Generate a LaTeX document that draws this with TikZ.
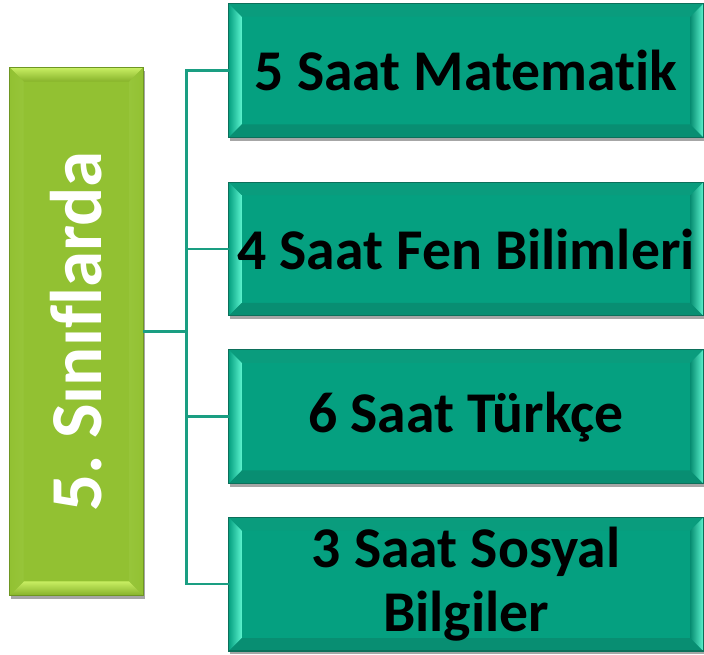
\documentclass[tikz,border=0pt]{standalone}
\usepackage{fontspec}
\setmainfont{Carlito}[Ligatures=CommonOff]
\usetikzlibrary{positioning}
\usetikzlibrary{shadows, backgrounds}
\frenchspacing

\definecolor{tealface}{HTML}{05A080}
\definecolor{tealedge}{HTML}{0C6F5A}
\definecolor{tealtop}{HTML}{0A9C7D}
\definecolor{tealbot}{HTML}{088E72}
\definecolor{tealglow}{HTML}{5CF3CE}
\definecolor{greenface}{HTML}{92C132}
\definecolor{greenedge}{HTML}{6E9622}
\definecolor{greenglow}{HTML}{C8EE63}
\definecolor{greenside}{HTML}{97C53A}
\definecolor{greendark}{HTML}{86B22A}
\definecolor{linecol}{HTML}{1A9E82}

\begin{document}
\begin{tikzpicture}[x=0.025cm,y=-0.025cm,
  sinif/.style={minimum width=3.325cm,minimum height=13.175cm,inner sep=0pt,text=white,font=\fontsize{52}{60}\selectfont\bfseries},
  ders/.style={minimum width=11.85cm,minimum height=3.325cm,inner sep=0pt,align=center,font=\fontsize{41}{45}\selectfont\bfseries},
  baglanti/.style={draw=linecol,line width=1.8pt},
  golge/.style={drop shadow={shadow xshift=0.04cm,shadow yshift=-0.08cm,opacity=0.35,fill=black}}]
\useasboundingbox (0,0) rectangle (704,654);

\node[sinif] (S) at (76.5,331.5) {\rotatebox{90}{5. Sınıflarda}};
\node[ders] (m1) at (466,70.5) {5 Saat Matematik};
\node[ders] (m2) at (466,249) {4 Saat Fen Bilimleri};
\node[ders,below=0.85cm of m2] (m3) {6 Saat Türkçe};
\node[ders,below=0.85cm of m3] (m4) {3 Saat Sosyal\\Bilgiler};

% connectors
\coordinate (J) at ([shift={(43,0)}]S.east);
\draw[baglanti] (S.east) -- (J);
\foreach \m in {m1,m2,m3,m4}
  \draw[baglanti] (J) |- (\m.west);

\begin{scope}[on background layer]
% green box
\draw[golge,fill=greenface,draw=none] (S.north west) rectangle (S.south east);
\shade[top color=greenglow,bottom color=greendark] (S.north west) -- (S.north east) -- ++(-14,14) -- ([shift={(14,14)}]S.north west) -- cycle;
\shade[top color=greenglow,bottom color=greendark] (S.south west) -- (S.south east) -- ++(-14,-14) -- ([shift={(14,-14)}]S.south west) -- cycle;
\shade[left color=greenface,right color=greenside] (S.north west) -- ([shift={(14,14)}]S.north west) -- ([shift={(14,-14)}]S.south west) -- (S.south west) -- cycle;
\shade[left color=greenside,right color=greenface] (S.north east) -- ([shift={(-14,14)}]S.north east) -- ([shift={(-14,-14)}]S.south east) -- (S.south east) -- cycle;
\draw[greenedge,line width=0.8pt] (S.north west) rectangle (S.south east);
% teal boxes
\foreach \m in {m1,m2,m3,m4}{
  \draw[golge,fill=tealface,draw=none] (\m.north west) rectangle (\m.south east);
  \fill[tealtop] (\m.north west) -- (\m.north east) -- ++(-13,13) -- ([shift={(13,13)}]\m.north west) -- cycle;
  \fill[tealbot] (\m.south west) -- (\m.south east) -- ++(-13,-13) -- ([shift={(13,-13)}]\m.south west) -- cycle;
  \shade[left color=tealface,right color=tealglow] (\m.north west) -- ([shift={(13,13)}]\m.north west) -- ([shift={(13,-13)}]\m.south west) -- (\m.south west) -- cycle;
  \shade[left color=tealbot,right color=tealglow] (\m.north east) -- ([shift={(-13,13)}]\m.north east) -- ([shift={(-13,-13)}]\m.south east) -- (\m.south east) -- cycle;
  \draw[tealedge,line width=0.8pt] (\m.north west) rectangle (\m.south east);
}
\end{scope}
\end{tikzpicture}
\end{document}
